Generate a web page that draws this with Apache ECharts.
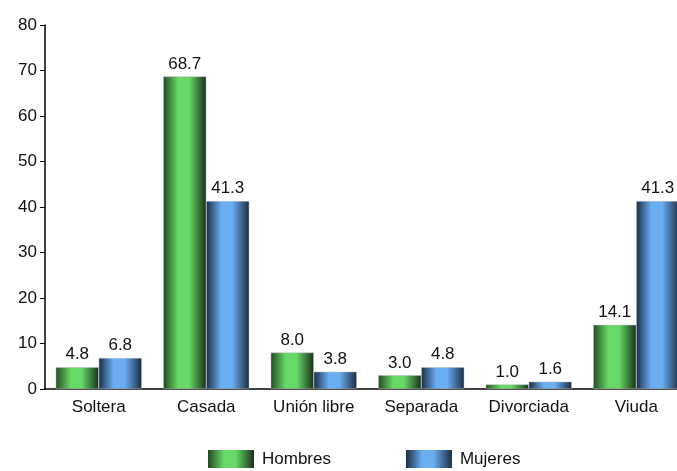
<!DOCTYPE html>
<html>
<head>
<meta charset="utf-8">
<script src="https://cdn.jsdelivr.net/npm/echarts@6/dist/echarts.min.js"></script>
<style>
  html, body { margin: 0; padding: 0; background: #ffffff; overflow: hidden; }
  /* the plot runs past the right edge of the window */
  #chart { width: 690px; height: 471px; }
</style>
</head>
<body>
<div id="chart"></div>
<script>
// Estado civil por sexo (%)
const categories = ['Soltera', 'Casada', 'Unión libre', 'Separada', 'Divorciada', 'Viuda'];
const hombres = [4.8, 68.7, 8.0, 3.0, 1.0, 14.1];
const mujeres = [6.8, 41.3, 3.8, 4.8, 1.6, 41.3];
const yTicks = [0, 10, 20, 30, 40, 50, 60, 70, 80];

const FONT = 'Liberation Sans, Arial, sans-serif';

// Horizontal shading that makes each bar look like a rounded column
function cylinder(dark1, light, dark2) {
  return new echarts.graphic.LinearGradient(0, 0, 1, 0, [
    { offset: 0, color: dark1 },
    { offset: 0.35, color: light },
    { offset: 0.6, color: light },
    { offset: 1, color: dark2 }
  ]);
}
const greenFill = cylinder('#244a24', '#66d966', '#183018');
const blueFill = cylinder('#1b2c44', '#6aaef2', '#1a2c44');

const labelStyle = {
  show: true,
  position: 'top',
  distance: 4,
  fontFamily: FONT,
  fontSize: 17,
  color: '#111',
  formatter: p => p.value.toFixed(1)
};

const chart = echarts.init(document.getElementById('chart'));
chart.setOption({
  animation: false,
  backgroundColor: '#ffffff',
  textStyle: { fontFamily: FONT },
  grid: { left: 45, right: 0, top: 25, bottom: 82, containLabel: false },
  legend: {
    left: 203,
    top: 445,
    itemWidth: 46,
    itemHeight: 18,
    itemGap: 75,
    icon: 'rect',
    itemStyle: { borderWidth: 0 },
    textStyle: { fontSize: 17, color: '#111', padding: [0, 0, 0, 3] },
    data: ['Hombres', 'Mujeres']
  },
  xAxis: {
    type: 'category',
    data: categories,
    axisLine: { show: true, lineStyle: { color: '#000', width: 1.5 } },
    axisTick: { show: false },
    axisLabel: { interval: 0, fontSize: 17, color: '#111', margin: 10 }
  },
  yAxis: {
    type: 'value',
    min: yTicks[0],
    max: yTicks[yTicks.length - 1],
    interval: 10,
    axisLine: { show: true, lineStyle: { color: '#000', width: 1.5 } },
    axisTick: { show: true, length: 5, lineStyle: { color: '#000' } },
    splitLine: { show: false },
    axisLabel: { fontSize: 17, color: '#111', margin: 8 }
  },
  series: [
    {
      name: 'Hombres',
      type: 'bar',
      data: hombres,
      barWidth: 43,
      barGap: '0%',
      itemStyle: { color: greenFill, borderColor: '#bbbbbb', borderWidth: 0.5 },
      label: labelStyle
    },
    {
      name: 'Mujeres',
      type: 'bar',
      data: mujeres,
      barWidth: 43,
      barGap: '0%',
      itemStyle: { color: blueFill, borderColor: '#bbbbbb', borderWidth: 0.5 },
      label: labelStyle
    }
  ]
});
</script>
</body>
</html>
